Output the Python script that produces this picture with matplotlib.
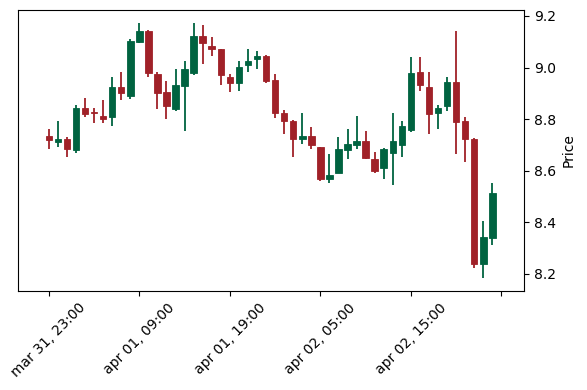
import numpy as np
import matplotlib
matplotlib.use("Agg")
import matplotlib.pyplot as plt

# Hourly OHLC values (mar 31 23:00 -> apr 02 22:00)
opens = [8.735, 8.712, 8.724, 8.681, 8.843, 8.826, 8.812, 8.810, 8.924, 8.890,
         9.099, 9.143, 8.975, 8.905, 8.838, 8.929, 8.980, 9.122, 9.084, 9.071,
         8.965, 8.941, 9.011, 9.032, 9.045, 8.952, 8.825, 8.794, 8.722, 8.735,
         8.692, 8.569, 8.593, 8.681, 8.701, 8.717, 8.645, 8.611, 8.670, 8.701,
         8.758, 8.983, 8.924, 8.823, 8.851, 8.944, 8.792, 8.724, 8.239, 8.340]
highs = [8.761, 8.792, 8.732, 8.854, 8.882, 8.843, 8.874, 8.962, 8.983, 9.112,
         9.172, 9.145, 8.983, 8.949, 8.993, 9.024, 9.172, 9.164, 9.120, 9.073,
         8.975, 9.024, 9.071, 9.066, 9.048, 8.975, 8.836, 8.796, 8.823, 8.771,
         8.694, 8.665, 8.732, 8.761, 8.812, 8.753, 8.673, 8.688, 8.823, 8.792,
         9.042, 9.042, 8.983, 8.854, 8.962, 9.141, 8.810, 8.726, 8.407, 8.554]
lows = [8.683, 8.691, 8.652, 8.670, 8.810, 8.784, 8.784, 8.774, 8.874, 8.879,
        9.094, 8.962, 8.841, 8.802, 8.833, 8.753, 8.973, 9.014, 9.045, 8.931,
        8.905, 8.910, 8.983, 8.996, 8.941, 8.805, 8.743, 8.652, 8.704, 8.683,
        8.562, 8.552, 8.590, 8.645, 8.683, 8.645, 8.593, 8.569, 8.544, 8.652,
        8.750, 8.910, 8.743, 8.761, 8.833, 8.665, 8.634, 8.223, 8.184, 8.311]
closes = [8.719, 8.724, 8.683, 8.843, 8.820, 8.822, 8.802, 8.924, 8.903, 9.102,
          9.143, 8.980, 8.903, 8.851, 8.931, 8.993, 9.122, 9.094, 9.071, 8.973,
          8.941, 9.004, 9.027, 9.045, 8.949, 8.823, 8.792, 8.722, 8.735, 8.701,
          8.568, 8.585, 8.686, 8.704, 8.717, 8.650, 8.600, 8.686, 8.714, 8.774,
          8.978, 8.931, 8.820, 8.843, 8.944, 8.789, 8.722, 8.239, 8.345, 8.515]

tick_pos = [0, 10, 20, 30, 40, 50]
tick_labels = ["mar 31, 23:00", "apr 01, 09:00", "apr 01, 19:00",
               "apr 02, 05:00", "apr 02, 15:00", ""]

up_color = "#006340"
down_color = "#A02128"

o = np.array(opens)
h = np.array(highs)
l = np.array(lows)
c = np.array(closes)
x = np.arange(len(o))
colors = [up_color if cc >= oo else down_color for oo, cc in zip(o, c)]

fig = plt.figure(figsize=(5.87, 3.90), dpi=100)
ax = fig.add_axes([0.0307, 0.2538, 0.862, 0.7206])

# wicks
ax.vlines(x, l, h, colors=colors, linewidth=1.3, zorder=2)
# bodies
body_h = np.where(np.abs(c - o) < 0.004, 0.004 * np.sign(c - o + 1e-9), c - o)
ax.bar(x, body_h, bottom=o, width=0.72, color=colors, edgecolor=colors,
       linewidth=0.6, zorder=3)

ax.set_xlim(-3.4, 52.5)
ax.set_ylim(8.134, 9.223)
ax.set_xticks(tick_pos)
ax.set_xticklabels(tick_labels, rotation=45, ha="center")

ax.yaxis.tick_right()
ax.yaxis.set_label_position("right")
ax.set_yticks([8.2, 8.4, 8.6, 8.8, 9.0, 9.2])
ax.set_ylabel("Price")

fig.savefig("out.png", dpi=100)
